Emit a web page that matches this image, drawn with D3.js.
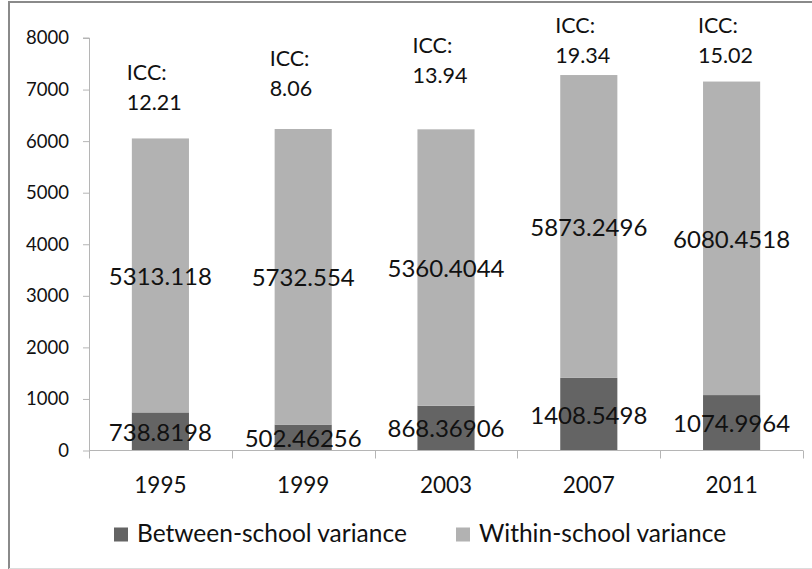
<!DOCTYPE html>
<html>
<head>
<meta charset="utf-8">
<script src="https://cdn.jsdelivr.net/npm/d3@7"></script>
<style>
  html, body { margin: 0; padding: 0; background: #fff; }
  svg { display: block; }
  text { font-family: Lato, "Open Sans", sans-serif; fill: #111; }
</style>
</head>
<body>
<svg id="chart" width="812" height="569"></svg>
<script>
// ---- data ----
const categories = ["1995", "1999", "2003", "2007", "2011"];
const betweenValues = [738.8198, 502.46256, 868.36906, 1408.5498, 1074.9964];
const withinValues = [5313.118, 5732.554, 5360.4044, 5873.2496, 6080.4518];
const iccValues = ["12.21", "8.06", "13.94", "19.34", "15.02"];
// anchor (data units) for the baseline of the ICC value line
const iccAnchor = [6612, 6880, 7136, 7524, 7524];
const yTicks = [0, 1000, 2000, 3000, 4000, 5000, 6000, 7000, 8000];
const seriesNames = ["Between-school variance", "Within-school variance"];
const seriesColors = ["#646464", "#b2b2b2"];

// ---- layout ----
const svg = d3.select("#chart");
const plot = { left: 89, right: 803, top: 38, bottom: 450.5 };
const axisColor = "#b5b5b5";

// outer frame
svg.append("line").attr("x1", 9).attr("x2", 812).attr("y1", 2).attr("y2", 2)
  .attr("stroke", "#8a8a8a").attr("stroke-width", 2);
svg.append("line").attr("x1", 9).attr("x2", 9).attr("y1", 1).attr("y2", 569)
  .attr("stroke", "#8a8a8a").attr("stroke-width", 2);
svg.append("line").attr("x1", 9).attr("x2", 812).attr("y1", 568.5).attr("y2", 568.5)
  .attr("stroke", "#dcdcdc").attr("stroke-width", 1);

const x = d3.scaleBand().domain(categories).range([plot.left, plot.right]).paddingInner(0.6).paddingOuter(0.3);
const y = d3.scaleLinear().domain([0, 8000]).range([plot.bottom, plot.top]);

// stacked data
const rows = categories.map((c, i) => ({ cat: c, between: betweenValues[i], within: withinValues[i] }));
const stack = d3.stack().keys(["between", "within"]);
const layers = stack(rows);

const g = svg.append("g");
layers.forEach((layer, li) => {
  g.selectAll(".bar" + li).data(layer).enter().append("rect")
    .attr("x", d => x(d.data.cat))
    .attr("width", x.bandwidth())
    .attr("y", d => y(d[1]))
    .attr("height", d => y(d[0]) - y(d[1]))
    .attr("fill", seriesColors[li]);
});

// y axis
const yAxis = d3.axisLeft(y).tickValues(yTicks).tickSize(6).tickPadding(14).tickFormat(d3.format("d"));
const ya = svg.append("g").attr("transform", `translate(${plot.left},0)`).call(yAxis);
ya.select(".domain").attr("stroke", axisColor).attr("d", `M-6,${y(8000)}H0.5V${plot.bottom}`);
ya.selectAll(".tick line").attr("stroke", axisColor);
ya.selectAll(".tick text").style("font-family", "Lato").style("font-size", "18.5px").attr("fill", "#111");

// x axis
const xa = svg.append("g").attr("transform", `translate(0,${plot.bottom})`);
xa.append("line").attr("x1", plot.left).attr("x2", plot.right).attr("y1", 0).attr("y2", 0).attr("stroke", axisColor);
const boundaries = d3.range(categories.length + 1).map(i => plot.left + i * (plot.right - plot.left) / categories.length);
xa.selectAll(".xt").data(boundaries).enter().append("line")
  .attr("x1", d => Math.round(d) + 0.5).attr("x2", d => Math.round(d) + 0.5)
  .attr("y1", 0).attr("y2", 8).attr("stroke", axisColor);
xa.selectAll(".xl").data(categories).enter().append("text")
  .attr("x", d => x(d) + x.bandwidth() / 2)
  .attr("y", 42.5)
  .attr("text-anchor", "middle")
  .style("font-size", "22.5px")
  .text(d => d);

// value labels
layers.forEach((layer, li) => {
  const vals = li === 0 ? betweenValues : withinValues;
  g.selectAll(".lab" + li).data(layer).enter().append("text")
    .attr("x", d => x(d.data.cat) + x.bandwidth() / 2)
    .attr("y", d => y((d[0] + d[1]) / 2))
    .attr("dy", "0.39em")
    .attr("text-anchor", "middle")
    .style("font-size", "24px")
    .text((d, i) => vals[i]);
});

// ICC labels
categories.forEach((c, i) => {
  const t = svg.append("text")
    .attr("x", x(c) - 5)
    .attr("y", y(iccAnchor[i]))
    .style("font-size", "21.5px");
  t.append("tspan").attr("x", x(c) - 5).attr("dy", -29.5).text("ICC:");
  t.append("tspan").attr("x", x(c) - 5).attr("dy", 29.5).text(iccValues[i]);
});

// legend
const legendX = [114, 456];
const legend = svg.append("g");
seriesNames.forEach((name, i) => {
  legend.append("rect").attr("x", legendX[i]).attr("y", 527.5).attr("width", 14).attr("height", 14)
    .attr("fill", seriesColors[i]);
  legend.append("text").attr("x", legendX[i] + 23).attr("y", 541.5)
    .style("font-size", "24.5px").text(name);
});
</script>
</body>
</html>
